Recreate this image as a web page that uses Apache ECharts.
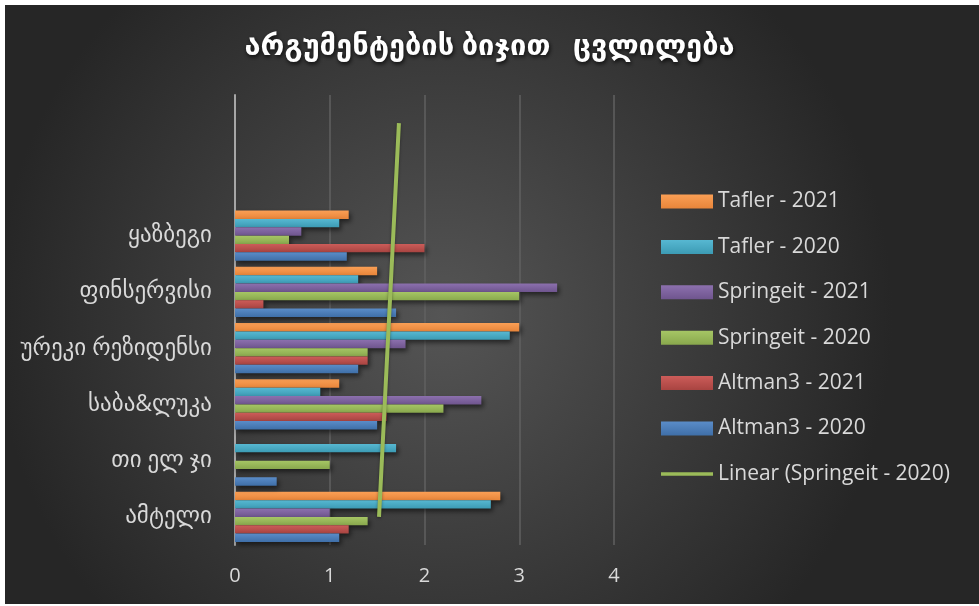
<!DOCTYPE html>
<html><head><meta charset="utf-8">
<script src="https://cdn.jsdelivr.net/npm/echarts@6/dist/echarts.min.js"></script>
<style>html,body{margin:0;padding:0;background:#fff}#c{width:979px;height:606px}</style>
</head><body><div id="c"></div>
<script>
// categories bottom -> top (2 empty forecast slots at the top)
const categories = ['ამტელი', 'თი ელ ჯი', 'საბა&ლუკა', 'ურეკი რეზიდენსი', 'ფინსერვისი', 'ყაზბეგი', '', ''];
const altman2020   = [1.1, 0.44, 1.5, 1.3, 1.7, 1.18];
const altman2021   = [1.2, 0, 1.6, 1.4, 0.3, 2.0];
const springeit2020 = [1.4, 1.0, 2.2, 1.4, 3.0, 0.57];
const springeit2021 = [1.0, 0, 2.6, 1.8, 3.4, 0.7];
const tafler2020   = [2.7, 1.7, 0.9, 2.9, 1.3, 1.1];
const tafler2021   = [2.8, 0, 1.1, 3.0, 1.5, 1.2];
const xTicks = [0, 1, 2, 3, 4];

// linear trendline of Springeit - 2020 (forward forecast 2 periods)
function trend(vals, n) {
  const m = vals.length;
  let sx = 0, sy = 0;
  vals.forEach((v, i) => { sx += i; sy += v; });
  const mx = sx / m, my = sy / m;
  let sxy = 0, sxx = 0;
  vals.forEach((v, i) => { sxy += (i - mx) * (v - my); sxx += (i - mx) * (i - mx); });
  const b = sxy / sxx, a = my - b * mx;
  const out = [];
  for (let i = 0; i < n; i++) out.push(a + b * i);
  return out;
}
const trendVals = trend(springeit2020, categories.length);

const FONT = "'Open Sans', 'DejaVu Sans', sans-serif";
const txt = '#d9d9d9';
function grad(c1, c2) {
  return { type: 'linear', x: 0, y: 0, x2: 0, y2: 1, colorStops: [{ offset: 0, color: c1 }, { offset: 1, color: c2 }] };
}
function barSeries(name, data, c1, c2) {
  return {
    name, type: 'bar', data,
    barGap: '0%', barCategoryGap: '11%',
    itemStyle: { color: grad(c1, c2), shadowBlur: 5, shadowOffsetX: 2, shadowOffsetY: 3, shadowColor: 'rgba(0,0,0,0.55)' }
  };
}

const chart = echarts.init(document.getElementById('c'), null, { renderer: 'canvas' });
chart.setOption({
  animation: false,
  textStyle: { fontFamily: FONT },
  graphic: [{
    type: 'rect', z: -10, silent: true,
    shape: { x: 5, y: 5, width: 974, height: 599 },
    style: { fill: { type: 'radial', x: 0.45, y: 0.52, r: 0.75, colorStops: [{ offset: 0, color: '#555555' }, { offset: 1, color: '#262626' }] } }
  }],
  title: {
    text: 'არგუმენტების ბიჯით   ცვლილება',
    left: 'center', top: 27,
    textStyle: { color: '#ffffff', fontSize: 29, fontWeight: 'bold', fontFamily: FONT, textShadowColor: 'rgba(0,0,0,0.8)', textShadowBlur: 4, textShadowOffsetX: 1, textShadowOffsetY: 2 }
  },
  legend: {
    orient: 'vertical', left: 656, top: 186,
    itemWidth: 52, itemHeight: 14, itemGap: 24.4,
    textStyle: { color: txt, fontSize: 21, fontFamily: FONT },
    data: [
      { name: 'Tafler - 2021', icon: 'rect' },
      { name: 'Tafler - 2020', icon: 'rect' },
      { name: 'Springeit - 2021', icon: 'rect' },
      { name: 'Springeit - 2020', icon: 'rect' },
      { name: 'Altman3 - 2021', icon: 'rect' },
      { name: 'Altman3 - 2020', icon: 'rect' },
      { name: 'Linear (Springeit - 2020)', icon: 'path://M0,0 L52,0 L52,3.5 L0,3.5 Z' }
    ]
  },
  grid: { left: 235, right: 365, top: 95, bottom: 61 },
  xAxis: {
    type: 'value', min: 0, max: 4, interval: 1,
    axisLine: { show: false }, axisTick: { show: false },
    axisLabel: { color: txt, fontSize: 20, margin: 21, formatter: v => xTicks.includes(v) ? String(v) : '' },
    splitLine: { show: true, lineStyle: { color: '#606060', width: 1.5 } }
  },
  yAxis: {
    type: 'category', data: categories,
    axisLine: { show: true, lineStyle: { color: '#a6a6a6', width: 2 } },
    axisTick: { show: false },
    axisLabel: { color: txt, fontSize: 23, margin: 23 },
    splitLine: { show: false }
  },
  series: [
    barSeries('Tafler - 2021', tafler2021, '#fa9f55', '#e8853a'),
    barSeries('Tafler - 2020', tafler2020, '#57b8d2', '#3c9bb4'),
    barSeries('Springeit - 2021', springeit2021, '#8c70ae', '#6f558e'),
    barSeries('Springeit - 2020', springeit2020, '#a6c665', '#89a84d'),
    barSeries('Altman3 - 2021', altman2021, '#cc5c59', '#a84441'),
    barSeries('Altman3 - 2020', altman2020, '#5a8cc8', '#3f6fa8'),
    {
      name: 'Linear (Springeit - 2020)', type: 'line', data: trendVals,
      symbol: 'none', z: 5,
      lineStyle: { color: '#9bbb59', width: 4, shadowBlur: 3, shadowColor: 'rgba(0,0,0,0.4)', shadowOffsetY: 1 },
      itemStyle: { color: '#9bbb59' }
    }
  ]
});
</script></body></html>
